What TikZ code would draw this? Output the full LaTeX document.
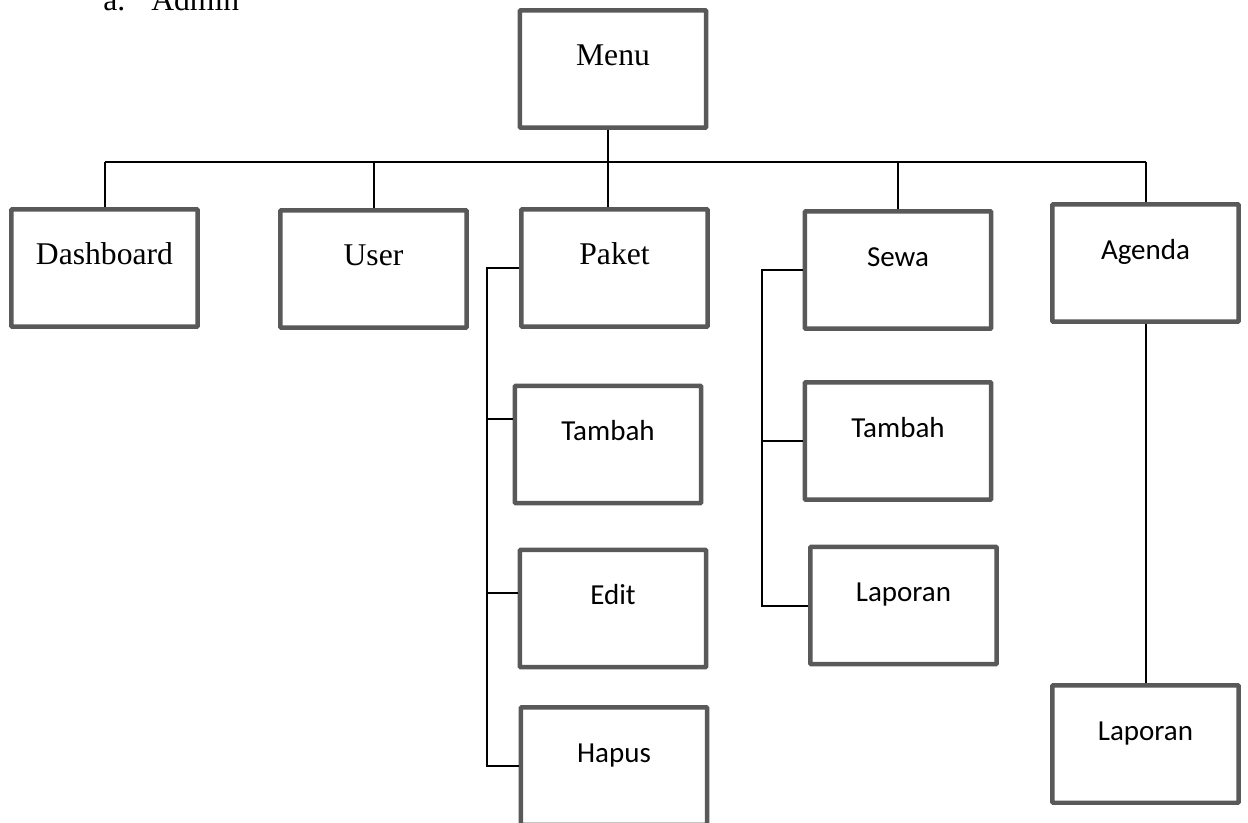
\documentclass[tikz,border=0pt]{standalone}
\usepackage{fontspec}
\setmainfont{Liberation Serif}
\newfontfamily\calibri{Carlito}
\usepackage{color}
\definecolor{boxgray}{RGB}{89,89,89}
\tikzstyle{box} = [rectangle,draw=boxgray,line width=0.09cm,rounded corners=0.6pt,fill=white,minimum width=3.73cm,inner xsep=0pt,inner ysep=0pt,text height=1.1cm,text depth=1.25cm]
\tikzstyle{tbox} = [box,font=\fontsize{18}{21}\selectfont]
\tikzstyle{cbox} = [box,font=\calibri\fontsize{16.5}{20}\selectfont]
\tikzstyle{wire} = [draw=black,line width=0.04cm]
\begin{document}
\begin{tikzpicture}[x=0.02cm,y=-0.02cm]
			\useasboundingbox (0,0) rectangle (1248,822);
			\clip (0,0) rectangle (1248,822);
			\node [anchor=base west,inner sep=0pt,font=\fontsize{18}{21}\selectfont](itema) at (103,10){a.};
			\node [anchor=base west,inner sep=0pt,font=\fontsize{18}{21}\selectfont](admin) at (151,10){Admin};

			\node [tbox](menu) at (613,69){Menu};
			\node [tbox](dash) at (104.5,268){Dashboard};
			\node [tbox](user) at (373.5,269){User};
			\node [tbox](paket) at (614.5,268){Paket};
			\node [cbox](ptambah) at (608,444.5){Tambah};
			\node [cbox](pedit) at (613,608.5){Edit};
			\node [cbox](phapus) at (614,766){Hapus};
			\node [cbox](sewa) at (898,270){Sewa};
			\node [cbox](stambah) at (898,441){Tambah};
			\node [cbox](slaporan) at (903.5,605.5){Laporan};
			\node [cbox](agenda) at (1145.5,263){Agenda};
			\node [cbox](alaporan) at (1145.5,744){Laporan};

			\coordinate (bar) at (0,162);
			\coordinate (pline) at (487,0);
			\coordinate (sline) at (762,0);
			\coordinate (mline) at (608,0);

			\draw[wire](dash.north |- bar)--(agenda.north |- bar);
			\draw[wire](mline |- menu.south)--(mline |- paket.north);
			\foreach \n in {dash,user,sewa,agenda}
				\draw[wire](\n.north)--(\n.north |- bar);

			\draw[wire](paket.west)-|(pline |- phapus.west)--(phapus.west);
			\draw[wire](ptambah.165)--(pline |- ptambah.165);
			\draw[wire](pedit.171)--(pline |- pedit.171);

			\draw[wire](sewa.west)-|(sline |- slaporan.west)--(slaporan.west);
			\draw[wire](stambah.west)--(sline |- stambah.west);

			\draw[wire](agenda)--(alaporan);
\end{tikzpicture}
\end{document}
